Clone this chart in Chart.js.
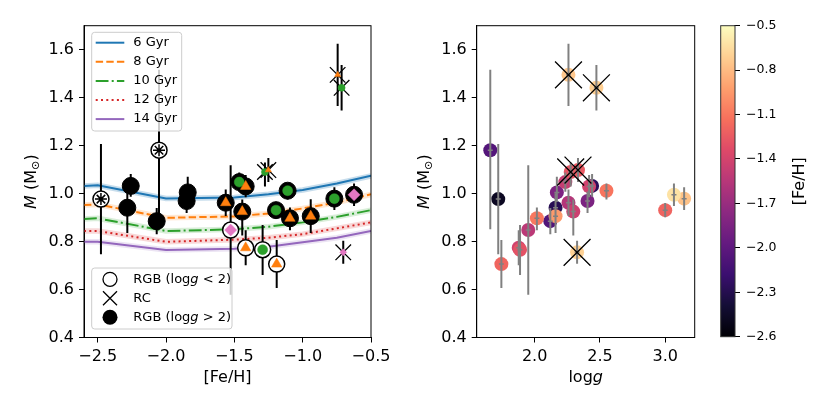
<!DOCTYPE html>
<html>
<head>
<meta charset="utf-8">
<script src="https://cdn.jsdelivr.net/npm/chart.js@4.4.0/dist/chart.umd.min.js"></script>
<style>
  html, body { margin: 0; padding: 0; background: #fff; }
  #wrap { position: relative; width: 830px; height: 415px; }
  canvas { position: absolute; top: 0; }
  #c1 { left: 0; }
  #c2 { left: 415px; }
  #c3 { left: 715px; }
</style>
</head>
<body>
<div id="wrap">
  <canvas id="c1" width="415" height="415"></canvas>
  <canvas id="c2" width="300" height="415"></canvas>
  <canvas id="c3" width="115" height="415"></canvas>
</div>
<script>
// isochrone masses along a [Fe/H] grid
let isoFeh = [-2.6, -2.5, -2.0, -1.5, -1.25, -1.0, -0.75, -0.5];
let iso6  = [1.032, 1.035, 0.980, 0.984, 0.997, 1.015, 1.042, 1.074];
let iso8  = [0.952, 0.955, 0.899, 0.905, 0.917, 0.938, 0.963, 0.997];
let iso10 = [0.894, 0.897, 0.844, 0.851, 0.862, 0.880, 0.903, 0.931];
let iso12 = [0.844, 0.844, 0.799, 0.808, 0.816, 0.831, 0.855, 0.880];
let iso14 = [0.799, 0.799, 0.765, 0.770, 0.778, 0.797, 0.816, 0.844];
let isoLabels = ['6 Gyr', '8 Gyr', '10 Gyr', '12 Gyr', '14 Gyr'];

// stars
let feh  = [-2.476, -2.258, -2.283, -2.068, -2.051, -1.841, -1.849, -1.563, -1.527, -1.464, -1.417, -1.442, -1.417,
            -1.293, -1.276, -1.251, -1.195, -1.190, -1.110, -1.093, -0.941, -0.768, -0.624, -0.703, -0.744, -0.715];
let mass = [0.977, 1.032, 0.941, 0.885, 1.181, 1.005, 0.969, 0.962, 0.848, 1.048, 1.030, 0.925, 0.774,
            0.766, 1.090, 1.098, 0.931, 0.706, 1.012, 0.897, 0.906, 0.979, 0.995, 0.755, 1.495, 1.441];
let massErrLo = [0.23, 0.045, 0.105, 0.055, 0.33, 0.04, 0.05, 0.055, 0.27, 0.04, 0.045, 0.10, 0.073,
                 0.105, 0.06, 0.05, 0.03, 0.10, 0.037, 0.05, 0.07, 0.047, 0.047, 0.048, 0.13, 0.095];
let massErrHi = [0.23, 0.05, 0.06, 0.055, 0.335, 0.065, 0.04, 0.055, 0.27, 0.04, 0.047, 0.05, 0.073,
                 0.103, 0.04, 0.05, 0.03, 0.10, 0.03, 0.045, 0.07, 0.047, 0.047, 0.048, 0.13, 0.095];
let logg = [1.721, 2.44, 2.16, 2.12, 1.66, 2.17, 2.405, 2.259, 1.951, 2.235, 2.417, 2.296, 1.878,
            1.888, 2.276, 2.332, 3.0, 1.745, 2.55, 2.017, 2.16, 3.145, 3.067, 2.325, 2.259, 2.473];
let starKind = ['open', 'filled', 'filled', 'filled', 'open', 'filled', 'filled', 'filled', 'open', 'filled', 'filled', 'filled', 'open',
                'open', 'rc', 'rc', 'filled', 'open', 'filled', 'filled', 'filled', 'filled', 'filled', 'rc', 'rc', 'rc'];
let subMarker = ['star', 'none', 'none', 'none', 'star', 'none', 'none', 'tri', 'diamond', 'circle', 'tri', 'tri', 'tri',
                 'circle', 'circle', 'tri', 'circle', 'tri', 'circle', 'tri', 'tri', 'circle', 'diamond', 'diamond', 'tri', 'circle'];

let fehTicks = [-2.5, -2.0, -1.5, -1.0, -0.5];
let massTicks = [0.4, 0.6, 0.8, 1.0, 1.2, 1.4, 1.6];
let loggTicks = [2.0, 2.5, 3.0];
let cbarTicks = [-2.6, -2.3, -2.0, -1.7, -1.4, -1.1, -0.8, -0.5];

let isoColors = ['#1f77b4', '#ff7f0e', '#2ca02c', '#d62728', '#9467bd'];
let isoDash = [[], [7.4, 3.2], [12.8, 3.2, 2, 3.2], [2, 3.3], []];
let magmaStops = ['#000004', '#140e36', '#3b0f70', '#641a80', '#8c2981', '#b73779',
                  '#de4968', '#f7705c', '#fe9f6d', '#fecf92', '#fcfdbf'];

Chart.defaults.font.family = 'DejaVu Sans';
Chart.defaults.font.size = 16;
Chart.defaults.color = '#000';
Chart.defaults.animation = false;
Chart.defaults.events = [];
Chart.defaults.plugins.legend.display = false;
Chart.defaults.plugins.tooltip.enabled = false;

function hexRgb(h) {
    return [parseInt(h.substr(1, 2), 16), parseInt(h.substr(3, 2), 16), parseInt(h.substr(5, 2), 16)];
}
function magma(v) {
    let t = (v - (-2.6)) / 2.1;
    t = Math.max(0, Math.min(1, t)) * 10;
    let i = Math.min(9, Math.floor(t)), f = t - i;
    let a = hexRgb(magmaStops[i]), b = hexRgb(magmaStops[i + 1]);
    let c = a.map((x, k) => Math.round(x + (b[k] - x) * f));
    return 'rgb(' + c.join(',') + ')';
}
function fmt(v) {
    return (Math.round(v * 10) / 10).toFixed(1).replace('-', '\u2212');
}
function errSegments(xs) {
    let out = [];
    xs.forEach((x, i) => {
        out.push({x: x, y: mass[i] - massErrLo[i]}, {x: x, y: mass[i] + massErrHi[i]}, {x: x, y: null});
    });
    return out;
}
function pts(xs, ys) {
    return xs.map((x, i) => ({x: x, y: ys[i]}));
}
function axis(min, max, tickVals, fit, size) {
    return {
        type: 'linear', min: min, max: max,
        afterBuildTicks: s => { s.ticks = tickVals.map(v => ({value: v})); },
        afterFit: fit,
        ticks: {callback: fmt, padding: 5, maxRotation: 0, autoSkip: false, font: {size: size || 16}},
        grid: {drawOnChartArea: false, tickLength: 5, tickColor: '#000', tickWidth: 1},
        border: {display: true, color: '#000', width: 1}
    };
}

function drawRich(ctx, parts, x, y, size, align, rot) {
    ctx.save();
    ctx.translate(x, y);
    if (rot) ctx.rotate(rot);
    ctx.fillStyle = '#000';
    ctx.textBaseline = 'middle';
    ctx.textAlign = 'left';
    let fontOf = p => (p.italic ? 'italic ' : '') + (p.sub ? size * 0.7 : size) + 'px "DejaVu Sans"';
    let total = 0;
    parts.forEach(p => { ctx.font = fontOf(p); total += ctx.measureText(p.t).width; });
    let cx = align === 'center' ? -total / 2 : 0;
    parts.forEach(p => {
        ctx.font = fontOf(p);
        ctx.fillText(p.t, cx, p.sub ? size * 0.28 : 0);
        cx += ctx.measureText(p.t).width;
    });
    ctx.restore();
}
function frame(ctx, ca) {
    ctx.save();
    ctx.strokeStyle = '#000';
    ctx.lineWidth = 1;
    ctx.strokeRect(ca.left, ca.top, ca.right - ca.left, ca.bottom - ca.top);
    ctx.restore();
}
function legendBox(ctx, x, y, w, h) {
    ctx.save();
    ctx.beginPath();
    ctx.roundRect(x, y, w, h, 3);
    ctx.fillStyle = 'rgba(255,255,255,0.8)';
    ctx.fill();
    ctx.strokeStyle = '#cccccc';
    ctx.lineWidth = 1;
    ctx.stroke();
    ctx.restore();
}

let massTitle = [{t: 'M', italic: true}, {t: ' (M'}, {t: '\u2299', sub: true}, {t: ')'}];

const leftDecor = {
    id: 'leftDecor',
    afterDraw(chart) {
        let ctx = chart.ctx, ca = chart.chartArea;
        frame(ctx, ca);
        drawRich(ctx, [{t: '[Fe/H]'}], (ca.left + ca.right) / 2, ca.bottom + 40, 16, 'center', 0);
        drawRich(ctx, massTitle, ca.left - 52.3, (ca.top + ca.bottom) / 2, 16, 'center', -Math.PI / 2);

        // age legend
        let lx = ca.left + 7.7, ly = ca.top + 6.6;
        legendBox(ctx, lx, ly, 90, 98.7);
        isoLabels.forEach((lab, i) => {
            let yy = ly + 10.4 + i * 19.1;
            ctx.save();
            ctx.strokeStyle = isoColors[i];
            ctx.lineWidth = 2;
            ctx.setLineDash(isoDash[i]);
            ctx.beginPath();
            ctx.moveTo(lx + 4, yy);
            ctx.lineTo(lx + 32.6, yy);
            ctx.stroke();
            ctx.restore();
            drawRich(ctx, [{t: lab}], lx + 41.6, yy, 13, 'left', 0);
        });

        // star type legend
        let bx = ca.left + 7.7, by = ca.bottom - 8.5 - 61;
        legendBox(ctx, bx, by, 140.3, 61);
        let mx = bx + 18.3;
        ctx.save();
        ctx.lineWidth = 1.3;
        ctx.strokeStyle = '#000';
        ctx.beginPath();
        ctx.arc(mx, by + 11.3, 7, 0, Math.PI * 2);
        ctx.fillStyle = '#fff';
        ctx.fill();
        ctx.stroke();
        ctx.beginPath();
        ctx.moveTo(mx - 7, by + 30.3 - 7); ctx.lineTo(mx + 7, by + 30.3 + 7);
        ctx.moveTo(mx - 7, by + 30.3 + 7); ctx.lineTo(mx + 7, by + 30.3 - 7);
        ctx.stroke();
        ctx.beginPath();
        ctx.arc(mx, by + 49.3, 7.5, 0, Math.PI * 2);
        ctx.fillStyle = '#000';
        ctx.fill();
        ctx.restore();
        drawRich(ctx, [{t: 'RGB (log'}, {t: 'g', italic: true}, {t: ' < 2)'}], bx + 41.6, by + 11.3, 13, 'left', 0);
        drawRich(ctx, [{t: 'RC'}], bx + 41.6, by + 30.3, 13, 'left', 0);
        drawRich(ctx, [{t: 'RGB (log'}, {t: 'g', italic: true}, {t: ' > 2)'}], bx + 41.6, by + 49.3, 13, 'left', 0);
    }
};

const rightDecor = {
    id: 'rightDecor',
    afterDraw(chart) {
        let ctx = chart.ctx, ca = chart.chartArea;
        frame(ctx, ca);
        drawRich(ctx, [{t: 'log'}, {t: 'g', italic: true}], (ca.left + ca.right) / 2, ca.bottom + 40, 16, 'center', 0);
        drawRich(ctx, massTitle, ca.left - 52.3, (ca.top + ca.bottom) / 2, 16, 'center', -Math.PI / 2);
    }
};

const cbarDecor = {
    id: 'cbarDecor',
    afterDraw(chart) {
        let ctx = chart.ctx, ca = chart.chartArea;
        ctx.save();
        ctx.strokeStyle = '#333';
        ctx.lineWidth = 1;
        ctx.strokeRect(ca.left, ca.top, ca.right - ca.left, ca.bottom - ca.top);
        ctx.restore();
        drawRich(ctx, [{t: '[Fe/H]'}], ca.right + 65, (ca.top + ca.bottom) / 2, 16, 'center', -Math.PI / 2);
    }
};

// ---- left panel: mass vs [Fe/H]
let isoSets = [iso6, iso8, iso10, iso12, iso14];
let leftSets = [];
isoSets.forEach((ys, i) => {
    leftSets.push({
        data: pts(isoFeh, ys), showLine: true, pointRadius: 0,
        borderColor: isoColors[i] + (i === 0 ? '40' : '2e'), borderWidth: 5.5, order: 5
    });
    leftSets.push({
        data: pts(isoFeh, ys), showLine: true, pointRadius: 0,
        borderColor: isoColors[i], borderWidth: 2, borderDash: isoDash[i], order: 4
    });
});
leftSets.push({
    data: errSegments(feh), showLine: true, spanGaps: false, pointRadius: 0,
    borderColor: '#000', borderWidth: 2, order: 3
});
leftSets.push({
    data: pts(feh, mass),
    pointStyle: starKind.map(k => k === 'rc' ? 'crossRot' : 'circle'),
    pointRadius: starKind.map(k => k === 'rc' ? 11 : (k === 'open' ? 8 : 8.5)),
    pointBackgroundColor: starKind.map(k => k === 'open' ? '#fff' : (k === 'rc' ? 'rgba(0,0,0,0)' : '#000')),
    pointBorderColor: '#000',
    pointBorderWidth: starKind.map(k => k === 'open' ? 1.5 : (k === 'rc' ? 1.3 : 1)),
    order: 2
});
let subStyle = {star: 'star', tri: 'triangle', circle: 'circle', diamond: 'rectRot', none: 'circle'};
let subColor = {star: '#000', tri: '#ff7f0e', circle: '#2ca02c', diamond: '#e377c2', none: '#000'};
leftSets.push({
    data: pts(feh, mass),
    pointStyle: subMarker.map(s => subStyle[s]),
    pointRadius: subMarker.map((s, i) => s === 'none' ? 0 : (starKind[i] === 'rc' ? 3.5 : (s === 'circle' ? 5 : 6))),
    pointBackgroundColor: subMarker.map(s => subColor[s]),
    pointBorderColor: subMarker.map(s => subColor[s]),
    pointBorderWidth: subMarker.map(s => s === 'star' ? 1.5 : 0.5),
    order: 1
});

new Chart(document.getElementById('c1'), {
    type: 'scatter',
    data: {datasets: leftSets},
    options: {
        responsive: false,
        layout: {padding: {left: 0, right: 44, top: 25.7, bottom: 0}},
        scales: {
            x: axis(-2.6, -0.5, fehTicks, s => { s.height = 77.5; }),
            y: axis(0.4, 1.7, massTicks, s => { s.width = 84; })
        }
    },
    plugins: [leftDecor]
});

// ---- right panel: mass vs logg, coloured by [Fe/H]
let rcIdx = starKind.map((k, i) => k === 'rc' ? i : -1).filter(i => i >= 0);
new Chart(document.getElementById('c2'), {
    type: 'scatter',
    data: {datasets: [
        {
            data: pts(logg, mass), pointRadius: 7, pointBorderWidth: 0,
            pointBackgroundColor: feh.map(magma), order: 3
        },
        {
            data: errSegments(logg), showLine: true, spanGaps: false, pointRadius: 0,
            borderColor: '#808080', borderWidth: 2, order: 2
        },
        {
            data: pts(logg, mass), pointStyle: 'line', pointRadius: 2.5,
            pointBorderColor: '#808080', pointBorderWidth: 1.5, order: 1
        },
        {
            data: rcIdx.map(i => ({x: logg[i], y: mass[i]})), pointStyle: 'crossRot', pointRadius: 19,
            pointBorderColor: '#000', pointBorderWidth: 1.3, order: 0
        }
    ]},
    options: {
        responsive: false,
        layout: {padding: {left: 0, right: 9, top: 25.7, bottom: 0}},
        scales: {
            x: axis(1.556, 3.226, loggTicks, s => { s.height = 77.5; }),
            y: axis(0.4, 1.7, massTicks, s => { s.width = 61.7; })
        }
    },
    plugins: [rightDecor]
});

// ---- colour bar
let cbY = axis(-2.6, -0.5, cbarTicks, s => { s.width = 95; }, 12.5);
cbY.position = 'right';
cbY.ticks.padding = 6;
new Chart(document.getElementById('c3'), {
    type: 'bar',
    data: {
        labels: [''],
        datasets: [{
            data: [[-2.6, -0.5]],
            barPercentage: 1, categoryPercentage: 1, borderWidth: 0,
            backgroundColor: ctx => {
                let ca = ctx.chart.chartArea;
                if (!ca) return '#000';
                let g = ctx.chart.ctx.createLinearGradient(0, ca.bottom, 0, ca.top);
                magmaStops.forEach((c, i) => g.addColorStop(i / 10, c));
                return g;
            }
        }]
    },
    options: {
        responsive: false,
        layout: {padding: {left: 5.7, right: 0, top: 25.7, bottom: 78.3}},
        scales: {
            x: {display: false},
            y: cbY
        }
    },
    plugins: [cbarDecor]
});
</script>
</body>
</html>
